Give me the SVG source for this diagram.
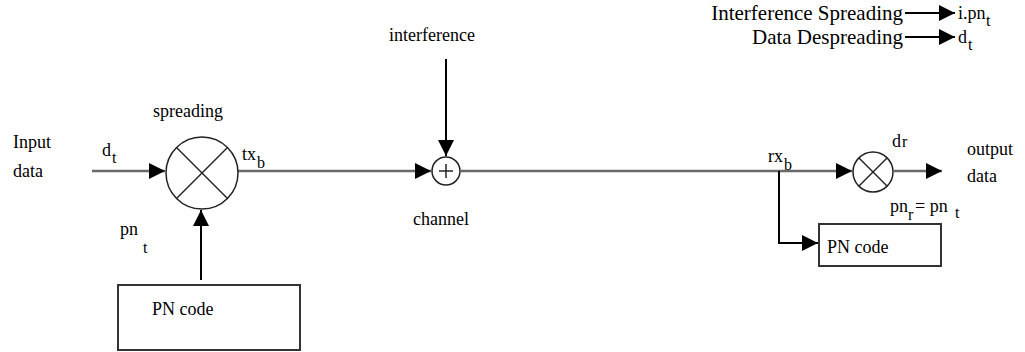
<svg xmlns="http://www.w3.org/2000/svg" width="1025" height="352" viewBox="0 0 1025 352" font-family="Liberation Serif, DejaVu Serif, serif">
<defs>
<marker id="ah" viewBox="0 0 10 10" refX="10" refY="5" markerWidth="16" markerHeight="16" markerUnits="userSpaceOnUse" orient="auto">
<path d="M0,0 L10,5 L0,10 z" fill="#000"/>
</marker>
</defs>
<style>
text{font-size:18px;fill:#000}
.sub{font-size:16px}
.big{font-size:21px}
.main{stroke:#6a6a6a;stroke-width:2.5;fill:none}
.wire{stroke:#000;stroke-width:2;fill:none}
.node{fill:#fff;stroke:#222;stroke-width:1.5}
.box{fill:#fff;stroke:#333;stroke-width:2}
</style>
<rect width="1025" height="352" fill="#fff"/>
<g id="connectors">
<line class="main" x1="92" y1="171" x2="165" y2="171" marker-end="url(#ah)"/>
<line class="wire" x1="201" y1="280" x2="201" y2="210" marker-end="url(#ah)"/>
<line class="main" x1="238" y1="171" x2="431" y2="171" marker-end="url(#ah)"/>
<line class="wire" x1="446" y1="59" x2="446" y2="156" marker-end="url(#ah)"/>
<line class="main" x1="461" y1="171" x2="852" y2="171" marker-end="url(#ah)"/>
<polyline class="wire" points="779,171 779,243 818,243" marker-end="url(#ah)"/>
<line class="main" x1="894" y1="171" x2="942" y2="171" marker-end="url(#ah)"/>
<line class="wire" x1="905" y1="13" x2="955" y2="13" marker-end="url(#ah)"/>
<line class="wire" x1="905" y1="37" x2="955" y2="37" marker-end="url(#ah)"/>
</g>
<g id="spreader">
<circle class="node" cx="202" cy="173" r="36"/>
<line class="node" x1="176.5" y1="147.5" x2="227.5" y2="198.5"/>
<line class="node" x1="227.5" y1="147.5" x2="176.5" y2="198.5"/>
<text x="188" y="117" text-anchor="middle">spreading</text>
</g>
<g id="adder">
<circle class="node" cx="446" cy="171" r="14"/>
<line class="node" x1="439" y1="171" x2="453" y2="171"/>
<line class="node" x1="446" y1="164" x2="446" y2="178"/>
<text x="441" y="225" text-anchor="middle">channel</text>
<text x="432" y="41" text-anchor="middle">interference</text>
</g>
<g id="despreader">
<circle class="node" cx="873" cy="172" r="20"/>
<line class="node" x1="859" y1="158" x2="887" y2="186"/>
<line class="node" x1="887" y1="158" x2="859" y2="186"/>
</g>
<g id="pn-code-tx">
<rect class="box" x="118" y="285" width="182" height="65"/>
<text x="152" y="315">PN code</text>
</g>
<g id="pn-code-rx">
<rect class="box" x="819" y="224" width="122" height="42"/>
<text x="827" y="253">PN code</text>
</g>
<g id="labels">
<text x="13" y="148">Input</text>
<text x="13" y="177">data</text>
<text x="102" y="156">d</text><text class="sub" x="112" y="163">t</text>
<text x="242" y="160">tx</text><text class="sub" x="257" y="168">b</text>
<text x="120" y="235">pn</text><text class="sub" x="143" y="253">t</text>
<text x="768" y="162">rx</text><text class="sub" x="784" y="170">b</text>
<text x="892" y="147">d</text><text class="sub" x="902" y="147">r</text>
<text x="967" y="155">output</text>
<text x="967" y="182">data</text>
<text x="890" y="212">pn</text><text class="sub" x="908" y="220">r</text><text x="915" y="212">= pn</text><text class="sub" x="955" y="218">t</text>
<text class="big" x="903" y="20" text-anchor="end">Interference Spreading</text>
<text x="958" y="19">i.pn</text><text class="sub" x="986" y="26">t</text>
<text class="big" x="903" y="44" text-anchor="end">Data Despreading</text>
<text x="958" y="43">d</text><text class="sub" x="968" y="50">t</text>
</g>
</svg>
